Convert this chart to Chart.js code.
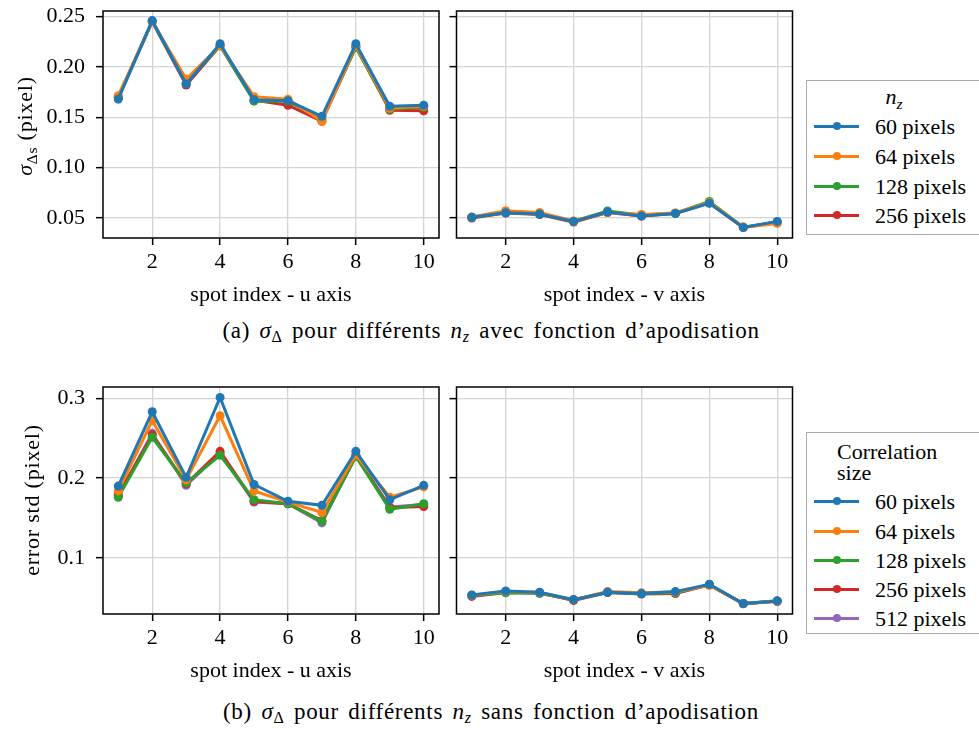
<!DOCTYPE html>
<html>
<head>
<meta charset="utf-8">
<script src="https://cdn.jsdelivr.net/npm/chart.js@4.4.1/dist/chart.umd.min.js"></script>
<style>
  body { margin: 0; width: 979px; height: 729px; overflow: hidden; position: relative; background: #fff;
         font-family: "Liberation Serif", serif; font-size: 22px; color: #000; }
  canvas { position: absolute; }
  .txt { position: absolute; white-space: nowrap; line-height: 1; }
  .rot { transform: translate(-50%, -50%) rotate(-90deg); letter-spacing: 0.8px; }
  .cap { transform: translate(-50%, -50%); font-size: 23px; letter-spacing: 0.7px; word-spacing: 3px; }
  sub { font-size: 70%; vertical-align: -0.3em; line-height: 0; }
  .legend { position: absolute; border: 1.5px solid #aaa; background: #fff; box-sizing: border-box; }
  .legend .cap { letter-spacing: 0; word-spacing: 0; font-size: 22px; }
  .row { position: absolute; left: 0; height: 0; }
  .row .ln { position: absolute; left: 7px; width: 45px; height: 3px; top: -1.5px; }
  .row .dot { position: absolute; left: 26px; width: 8px; height: 8px; top: -4px; border-radius: 50%; }
  .row .lb { position: absolute; left: 68px; top: -12px; white-space: nowrap; }
</style>
</head>
<body>
<canvas id="c1" width="445" height="310" style="left:0;top:0"></canvas>
<canvas id="c2" width="355" height="310" style="left:445px;top:0"></canvas>
<canvas id="c3" width="445" height="310" style="left:0;top:376px"></canvas>
<canvas id="c4" width="355" height="310" style="left:445px;top:376px"></canvas>

<div class="txt rot" style="left:25px;top:126px"><i>σ</i><sub>Δs</sub> (pixel)</div>
<div class="txt rot" style="left:32px;top:500px">error std (pixel)</div>

<div class="txt cap" style="left:491px;top:330px">(a) <i>σ</i><sub>Δ</sub> pour différents <i>n<sub>z</sub></i> avec fonction d’apodisation</div>
<div class="txt cap" style="left:491px;top:711px">(b) <i>σ</i><sub>Δ</sub> pour différents <i>n<sub>z</sub></i> sans fonction d’apodisation</div>

<div class="legend" id="leg1" style="left:806px;top:80px;width:200px;height:155px">
  <div class="txt cap" style="left:87px;top:16px"><i>n<sub>z</sub></i></div>
</div>
<div class="legend" id="leg2" style="left:806px;top:432px;width:200px;height:202px">
  <div class="txt" style="left:30px;top:8px">Correlation</div>
  <div class="txt" style="left:30px;top:29px">size</div>
</div>

<script>
// spot index on both axes
const spots = [1, 2, 3, 4, 5, 6, 7, 8, 9, 10];
const xTicks = [2, 4, 6, 8, 10];

const sizes = ['60 pixels', '64 pixels', '128 pixels', '256 pixels', '512 pixels'];
const colors = ['#1f77b4', '#ff7f0e', '#2ca02c', '#d62728', '#9467bd'];

// (a) with apodisation
const yTicksA = [0.05, 0.10, 0.15, 0.20, 0.25];
const apoU60  = [0.168, 0.246, 0.183, 0.223, 0.1675, 0.1665, 0.151, 0.223, 0.161, 0.162];
const apoU64  = [0.1715, 0.245, 0.188, 0.221, 0.1705, 0.168, 0.146, 0.221, 0.159, 0.161];
const apoU128 = [0.170, 0.245, 0.184, 0.221, 0.166, 0.166, 0.148, 0.2195, 0.158, 0.160];
const apoU256 = [0.170, 0.245, 0.182, 0.221, 0.167, 0.162, 0.146, 0.220, 0.157, 0.1565];
const apoV60  = [0.0507, 0.0553, 0.054, 0.0467, 0.056, 0.052, 0.0546, 0.0646, 0.0407, 0.0467];
const apoV64  = [0.051, 0.0573, 0.0555, 0.047, 0.0555, 0.0535, 0.055, 0.0655, 0.041, 0.0447];
const apoV128 = [0.0505, 0.0555, 0.054, 0.0468, 0.057, 0.053, 0.0548, 0.0665, 0.041, 0.0462];
const apoV256 = [0.050, 0.055, 0.0535, 0.046, 0.0555, 0.052, 0.0545, 0.065, 0.0405, 0.046];

// (b) without apodisation
const yTicksB = [0.1, 0.2, 0.3];
const rawU60  = [0.190, 0.283, 0.201, 0.301, 0.192, 0.171, 0.166, 0.2335, 0.173, 0.191];
const rawU64  = [0.184, 0.272, 0.198, 0.278, 0.184, 0.170, 0.157, 0.229, 0.176, 0.189];
const rawU128 = [0.176, 0.251, 0.194, 0.2285, 0.173, 0.168, 0.146, 0.227, 0.161, 0.168];
const rawU256 = [0.179, 0.254, 0.193, 0.2335, 0.171, 0.168, 0.147, 0.228, 0.163, 0.1645];
const rawU512 = [0.178, 0.256, 0.191, 0.231, 0.170, 0.168, 0.144, 0.228, 0.164, 0.167];
const rawV60  = [0.0538, 0.0588, 0.0572, 0.048, 0.0572, 0.0555, 0.058, 0.0672, 0.043, 0.0464];
const rawV64  = [0.0535, 0.058, 0.057, 0.048, 0.058, 0.0565, 0.0575, 0.066, 0.043, 0.046];
const rawV128 = [0.053, 0.0565, 0.056, 0.0478, 0.0568, 0.0555, 0.0565, 0.0665, 0.0432, 0.0465];
const rawV256 = [0.052, 0.057, 0.0565, 0.047, 0.057, 0.055, 0.0555, 0.0665, 0.0428, 0.0458];
const rawV512 = [0.0528, 0.0575, 0.056, 0.0475, 0.0572, 0.0555, 0.056, 0.0665, 0.043, 0.046];

Chart.defaults.font.family = '"Liberation Serif", serif';
Chart.defaults.font.size = 22;
Chart.defaults.color = '#000';

// black box round the plot area
const framePlugin = {
  id: 'frame',
  beforeInit(chart) { chart.ctx.letterSpacing = '0.5px'; },
  afterDraw(chart) {
    const a = chart.chartArea, ctx = chart.ctx;
    ctx.save();
    ctx.strokeStyle = '#000';
    ctx.lineWidth = 1.5;
    ctx.strokeRect(a.left, a.top, a.right - a.left, a.bottom - a.top);
    ctx.restore();
  }
};

function makeChart(id, series, yMin, yMax, yTicks, dec, yWidth, padRight, xTitle) {
  const datasets = series.map((vals, i) => ({
    label: sizes[i],
    data: spots.map((s, j) => ({x: s, y: vals[j]})),
    borderColor: colors[i],
    backgroundColor: colors[i],
    borderWidth: 3,
    pointRadius: 4.5,
    pointBorderWidth: 0,
    tension: 0
  }));
  return new Chart(document.getElementById(id), {
    type: 'line',
    data: {datasets},
    plugins: [framePlugin],
    options: {
      responsive: false,
      animation: false,
      devicePixelRatio: 1,
      layout: {padding: {left: 0, right: padRight, top: 11, bottom: 0}},
      plugins: {legend: {display: false}, tooltip: {enabled: false}},
      scales: {
        x: {
          type: 'linear', min: 0.55, max: 10.45,
          afterBuildTicks: s => { s.ticks = xTicks.map(v => ({value: v})); },
          afterFit: s => { s.height = 72; s.paddingLeft = 0; s.paddingRight = 0; },
          grid: {color: '#d4d4d4', lineWidth: 1.3, tickColor: '#000', tickWidth: 1.5, tickLength: 7},
          border: {display: false},
          ticks: {padding: 4, maxRotation: 0, autoSkip: false, callback: v => String(v)},
          title: {display: true, text: xTitle, padding: {top: 0, bottom: 2}}
        },
        y: {
          min: yMin, max: yMax,
          afterBuildTicks: s => { s.ticks = yTicks.map(v => ({value: v})); },
          afterFit: s => { s.width = yWidth; s.paddingTop = 0; s.paddingBottom = 0; },
          grid: {color: '#d4d4d4', lineWidth: 1.3, tickColor: '#000', tickWidth: 1.5, tickLength: 7},
          border: {display: false},
          ticks: {padding: 11, autoSkip: false, callback: v => yWidth > 50 ? v.toFixed(dec) : ''}
        }
      }
    }
  });
}

makeChart('c1', [apoU60, apoU64, apoU128, apoU256], 0.0302, 0.2555, yTicksA, 2, 103, 6, 'spot index - u axis');
makeChart('c2', [apoV60, apoV64, apoV128, apoV256], 0.0302, 0.2555, yTicksA, 2, 11.5, 7.5, 'spot index - v axis');
makeChart('c3', [rawU60, rawU64, rawU128, rawU256, rawU512], 0.030, 0.314, yTicksB, 1, 103, 6, 'spot index - u axis');
makeChart('c4', [rawV60, rawV64, rawV128, rawV256, rawV512], 0.030, 0.314, yTicksB, 1, 11.5, 7.5, 'spot index - v axis');

// legends
function fillLegend(boxId, n, rowsY) {
  const box = document.getElementById(boxId);
  for (let i = 0; i < n; i++) {
    const r = document.createElement('div');
    r.className = 'row';
    r.style.top = rowsY[i] + 'px';
    r.innerHTML = '<div class="ln" style="background:' + colors[i] + '"></div>' +
                  '<div class="dot" style="background:' + colors[i] + '"></div>' +
                  '<div class="lb">' + sizes[i] + '</div>';
    box.appendChild(r);
  }
}
fillLegend('leg1', 4, [45, 75, 105, 134]);
fillLegend('leg2', 5, [68, 98, 127, 156, 185]);
</script>
</body>
</html>
